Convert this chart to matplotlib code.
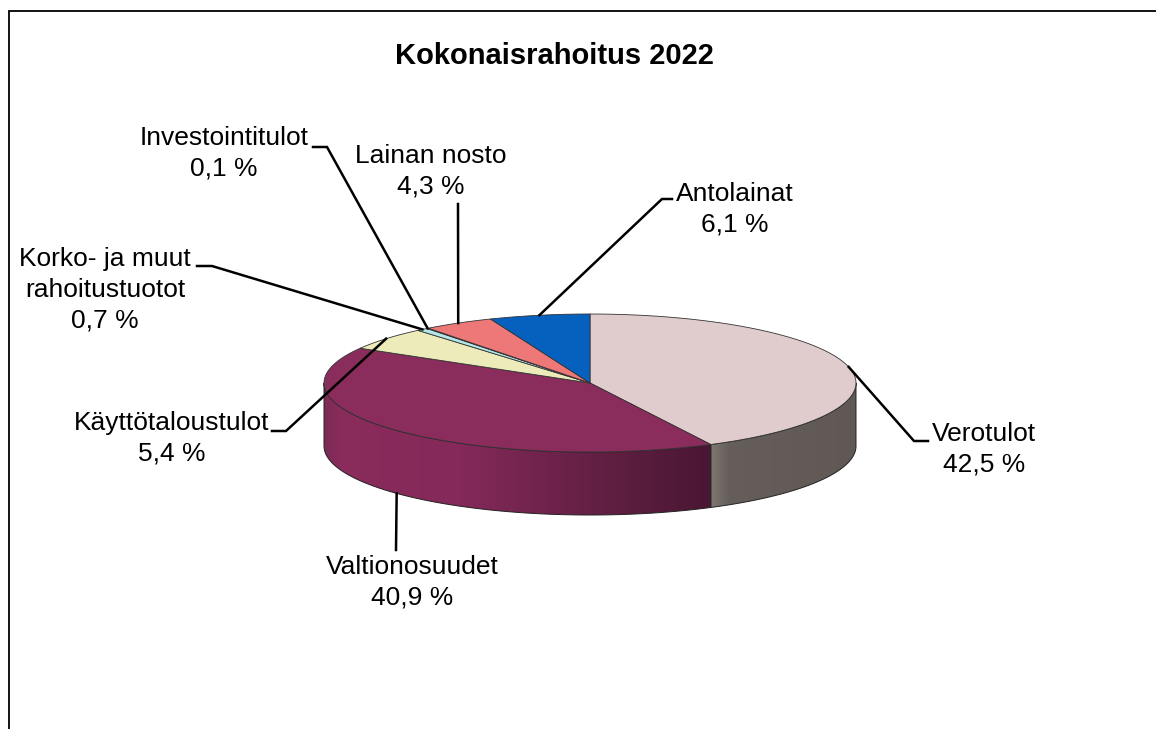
#!/usr/bin/env python3

import numpy as np
import matplotlib
matplotlib.use("Agg")
import matplotlib.pyplot as plt
from matplotlib.colors import LinearSegmentedColormap
from matplotlib.patches import Polygon

plt.rcParams['font.family'] = ['Liberation Sans', 'DejaVu Sans']

TITLE = "Kokonaisrahoitus 2022"

# clockwise from 12 o'clock
names = ["Verotulot", "Valtionosuudet", "Käyttötaloustulot",
         "Korko- ja muut\nrahoitustuotot", "Investointitulot",
         "Lainan nosto", "Antolainat"]
values = [42.5, 40.9, 5.4, 0.7, 0.1, 4.3, 6.1]
colors = ["#E0CCCC", "#8A2C5C", "#EDEBBA", "#B4E6E8", "#CCFFFF", "#EE7777", "#0560BE"]

# label centres in pixels
label_pos = [(984, 449), (412, 582), (172, 438), (105, 290), (224, 153), (431, 171), (735, 209)]
# leader line waypoints after the rim point
leader_via = [[(914, 441), (928, 441)], [(396, 550)], [(286, 431), (272, 431)],
              [(212, 266), (197, 266)], [(327, 147), (313, 147)], [(458, 204)],
              [(662, 199), (672, 199)]]

# pie geometry in pixels
CX, CY, RX, RY, DEPTH = 590, 383, 266, 69, 63

# left to right shading of the side walls
WALL_COLORS = {
    0: [(0, "#80776F"), (0.12, "#655E5A"), (1, "#5F5855")],
    1: [(0, "#7B2A56"), (0.04, "#8A2C5C"), (0.35, "#84295A"), (0.76, "#5E1E40"), (1, "#4A1633")],
}


def rim(theta, dy=0):
    t = np.radians(theta)
    return CX + RX * np.sin(t), CY - RY * np.cos(t) + dy


def arc(a, b, dy=0, n=200):
    t = np.linspace(a, b, n)
    x, y = rim(t, dy)
    return np.column_stack([x, y])


fig = plt.figure(figsize=(11.56, 7.29), dpi=100)
ax = fig.add_axes([0, 0, 1, 1])
ax.axis("off")

# outer frame, cut off by the screenshot at right and bottom
ax.plot([8.5, 8.5, 1156], [729, 10.5, 10.5], color="black", lw=1.3, solid_joinstyle="miter")

ax.text(554, 56, TITLE, ha="center", va="center", fontsize=21, fontweight="bold", color="black")

edges = np.concatenate([[0], np.cumsum(values)]) * 3.6

# side walls, only the front half can be seen
for i, (a, b) in enumerate(zip(edges[:-1], edges[1:])):
    a_vis, b_vis = max(a, 90), min(b, 270)
    if a_vis >= b_vis:
        continue
    outline = np.vstack([arc(a_vis, b_vis), arc(b_vis, a_vis, DEPTH)])
    x0, x1 = outline[:, 0].min(), outline[:, 0].max()
    y0, y1 = outline[:, 1].min(), outline[:, 1].max()
    poly = Polygon(outline, closed=True, fc="none", ec="none", transform=ax.transData)
    ax.add_patch(poly)
    cmap = LinearSegmentedColormap.from_list(f"wall{i}", WALL_COLORS[i])
    grad = np.linspace(0, 1, 256).reshape(1, -1)
    im = ax.imshow(grad, cmap=cmap, extent=(x0, x1, y1, y0), aspect="auto", zorder=1)
    im.set_clip_path(poly)
    ax.add_patch(Polygon(outline, closed=True, fc="none", ec="#222222", lw=0.7, zorder=2))

# top faces
for i, (a, b) in enumerate(zip(edges[:-1], edges[1:])):
    top = np.vstack([[CX, CY], arc(a, b)])
    ax.add_patch(Polygon(top, closed=True, fc=colors[i], ec="#333333", lw=0.6, zorder=3))

# leader lines
for i, (a, b) in enumerate(zip(edges[:-1], edges[1:])):
    mid = (a + b) / 2
    dy = DEPTH if 180 < mid < 270 else 0
    pts = [rim(mid, dy)] + leader_via[i]
    xs, ys = zip(*pts)
    ax.plot(xs, ys, color="black", lw=1.8, zorder=4, solid_joinstyle="miter")

# labels
for i, name in enumerate(names):
    txt = f"{name}\n{values[i]:.1f} %".replace(".", ",")
    ax.text(label_pos[i][0], label_pos[i][1], txt, ha="center", va="center",
            fontsize=19, color="black", linespacing=1.35, zorder=5)

ax.set_xlim(0, 1156)
ax.set_ylim(729, 0)

fig.savefig("out.png", dpi=100, facecolor="white")
